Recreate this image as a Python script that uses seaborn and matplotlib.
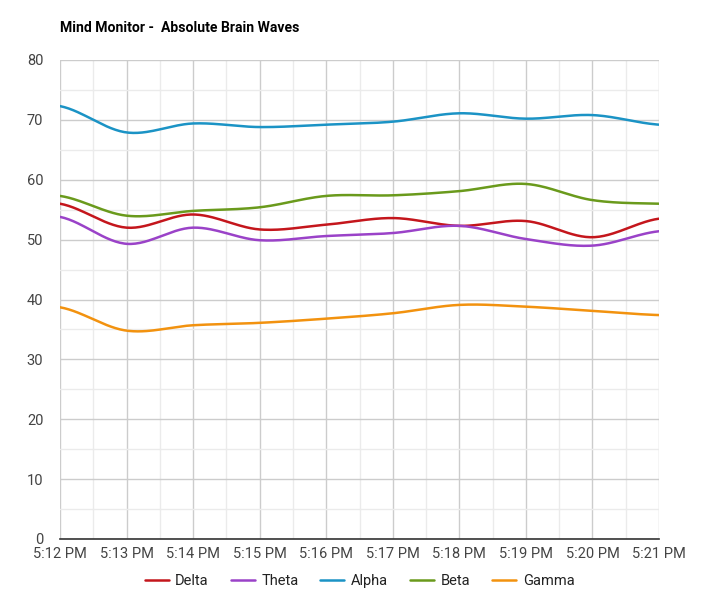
import numpy as np
import pandas as pd
import matplotlib
matplotlib.use("Agg")
import matplotlib.pyplot as plt
from matplotlib.ticker import MultipleLocator
import seaborn as sns

# ---- data ----
times = ["5:12 PM", "5:13 PM", "5:14 PM", "5:15 PM", "5:16 PM",
         "5:17 PM", "5:18 PM", "5:19 PM", "5:20 PM", "5:21 PM"]
delta = [56.0, 52.0, 54.2, 51.7, 52.5, 53.6, 52.3, 53.1, 50.4, 53.5]
theta = [53.8, 49.3, 52.0, 49.9, 50.6, 51.1, 52.3, 50.1, 49.0, 51.4]
alpha = [72.3, 67.9, 69.4, 68.8, 69.2, 69.7, 71.1, 70.2, 70.8, 69.2]
beta = [57.3, 54.0, 54.8, 55.4, 57.3, 57.4, 58.1, 59.3, 56.6, 56.0]
gamma = [38.7, 34.8, 35.7, 36.1, 36.8, 37.7, 39.1, 38.8, 38.1, 37.4]

series_names = ["Delta", "Theta", "Alpha", "Beta", "Gamma"]
series_values = [delta, theta, alpha, beta, gamma]
colors = ["#c4161c", "#9a42c8", "#1b93c5", "#6a9a1c", "#f2920f"]
title = "Mind Monitor -  Absolute Brain Waves"


def smooth(x, y, n=30):
    """Catmull-Rom style curve through the points (rendering only)."""
    x = np.asarray(x, float)
    y = np.asarray(y, float)
    xs, ys = [], []
    m = len(x)
    for i in range(m - 1):
        p0 = y[i - 1] if i > 0 else y[i]
        p1, p2 = y[i], y[i + 1]
        p3 = y[i + 2] if i + 2 < m else y[i + 1]
        t = np.linspace(0, 1, n, endpoint=(i == m - 2))
        tau = 0.5
        m1 = tau * (p2 - p0) if i > 0 else (p2 - p1) * 0.5
        m2 = tau * (p3 - p1) if i + 2 < m else (p2 - p1) * 0.5
        h00 = 2 * t**3 - 3 * t**2 + 1
        h10 = t**3 - 2 * t**2 + t
        h01 = -2 * t**3 + 3 * t**2
        h11 = t**3 - t**2
        ys.append(h00 * p1 + h10 * m1 + h01 * p2 + h11 * m2)
        xs.append(x[i] + t * (x[i + 1] - x[i]))
    return np.concatenate(xs), np.concatenate(ys)


sns.set_theme(style="white")
plt.rcParams["font.family"] = ["Roboto", "DejaVu Sans"]

fig = plt.figure(figsize=(7.2, 6.0), dpi=100)
ax = fig.add_axes([60 / 720, 1 - 539 / 600, 599 / 720, 479 / 600])

xpos = np.arange(len(times))
rows = []
for name, vals in zip(series_names, series_values):
    sx, sy = smooth(xpos, vals)
    rows.append(pd.DataFrame({"x": sx, "value": sy, "series": name}))
df = pd.concat(rows, ignore_index=True)

sns.lineplot(data=df, x="x", y="value", hue="series", hue_order=series_names,
             palette=colors, linewidth=1.8, ax=ax, sort=False, estimator=None,
             zorder=3)

ax.set_xlim(0, len(times) - 1)
ax.set_ylim(0, 80)
ax.xaxis.set_major_locator(MultipleLocator(1))
ax.xaxis.set_minor_locator(MultipleLocator(0.5))
ax.yaxis.set_major_locator(MultipleLocator(10))
ax.yaxis.set_minor_locator(MultipleLocator(5))
ax.set_xticks(xpos)
ax.set_xticklabels(times)
ax.grid(True, which="major", color="#cccccc", linewidth=1.0, zorder=0)
ax.grid(True, which="minor", color="#ebebeb", linewidth=1.0, zorder=0)
ax.set_axisbelow(True)
for s in ["top", "right", "left"]:
    ax.spines[s].set_visible(False)
ax.spines["bottom"].set_color("#333333")
ax.spines["bottom"].set_linewidth(1.2)
ax.tick_params(axis="both", which="both", length=0, labelsize=10.5,
               labelcolor="#444444")
ax.tick_params(axis="y", pad=12)
ax.tick_params(axis="x", pad=6)
ax.set_xlabel("")
ax.set_ylabel("")

fig.text(60 / 720, 1 - 28 / 600, title, fontsize=10.1, fontweight="bold",
         color="#000000", va="center", ha="left")

handles, labels = ax.get_legend_handles_labels()
ax.legend(handles, labels, loc="center",
          bbox_to_anchor=(0.5, (1 - 581 / 600 - (1 - 539 / 600)) / (479 / 600)),
          ncol=5, frameon=False, fontsize=10.5, handlelength=1.65,
          columnspacing=1.5, handletextpad=0.45, labelcolor="#222222")

fig.savefig("out.png", dpi=100)
